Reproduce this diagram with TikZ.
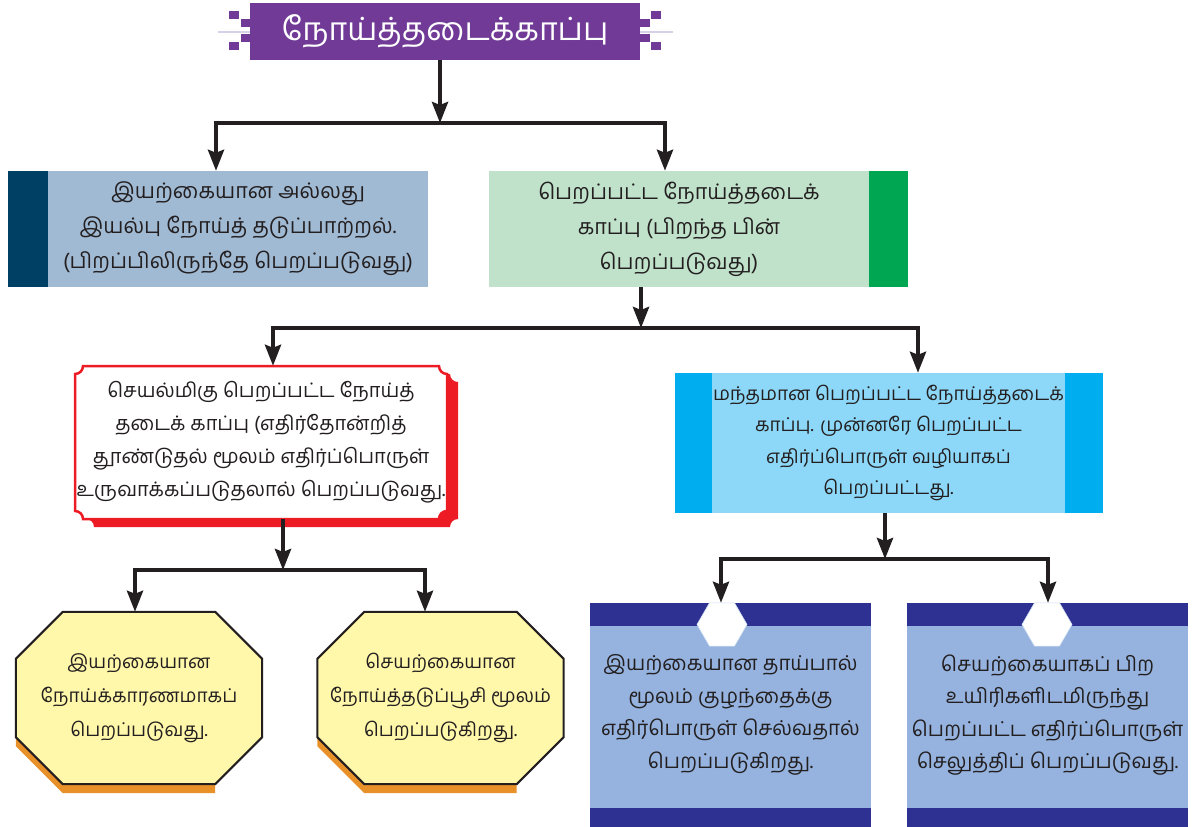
\documentclass[tikz,border=0pt]{standalone}
\usepackage{fontspec}
\newfontfamily\tamil[Script=Tamil]{Hind Madurai}
\usepackage{xcolor}
\usepackage{tikz}
\usetikzlibrary{arrows.meta,positioning,shapes.geometric,backgrounds}

\definecolor{ink}{RGB}{35,31,32}
\definecolor{headpurple}{RGB}{112,58,150}
\definecolor{lavline}{RGB}{214,208,232}
\definecolor{navyband}{RGB}{0,64,100}
\definecolor{steel}{RGB}{161,186,212}
\definecolor{mint}{RGB}{192,226,202}
\definecolor{grass}{RGB}{0,166,81}
\definecolor{alarm}{RGB}{237,28,36}
\definecolor{skylight}{RGB}{141,216,248}
\definecolor{skydark}{RGB}{0,174,239}
\definecolor{butter}{RGB}{255,247,170}
\definecolor{amber}{RGB}{232,145,40}
\definecolor{cornflower}{RGB}{149,179,222}
\definecolor{indigoband}{RGB}{46,49,146}
\definecolor{hexline}{RGB}{205,222,240}

\begin{document}
\begin{tikzpicture}[
  x=1pt,y=1pt,
  font=\tamil\fontsize{21}{33}\selectfont,
  headbox/.style={rectangle,fill=headpurple,text=white,minimum width=390pt,minimum height=57pt,inner sep=0pt,font=\tamil\fontsize{32}{36}\selectfont},
  tile/.style={rectangle,inner sep=0pt,align=center,text=ink},
  hexa/.style={regular polygon,regular polygon sides=6,minimum size=50pt,inner sep=0pt,fill=white,draw=hexline,line width=0.6pt},
  arr/.style={draw=ink,line width=4pt,-{Stealth[length=21pt,width=16pt,inset=3pt]}}
]
\useasboundingbox (0,0) rectangle (1192,-827);

% heading
\node[headbox] (head) at (445,-31.5) {நோய்த்தடைக்காப்பு};
\begin{scope}[on background layer]
  \draw[lavline,line width=1.5pt] (218,-32) -- (673,-32);
\end{scope}
\foreach \x/\y in {229/-11,241/-19,241/-34,229/-42,651/-11,640/-19,640/-34,651/-42}
  \fill[headpurple] (\x,\y) rectangle ++(10,-8);

% first level
\node[tile,fill=steel,minimum width=380pt,minimum height=116pt,font=\tamil\fontsize{21.5}{35}\selectfont] (natural) at (238,-229)
  {இயற்கையான அல்லது\\இயல்பு நோய்த் தடுப்பாற்றல்.\\(பிறப்பிலிருந்தே பெறப்படுவது)};
\fill[navyband] (natural.north west) rectangle ([xshift=-40pt]natural.south west);

\node[tile,fill=mint,minimum width=380pt,minimum height=116pt,font=\tamil\fontsize{21.5}{35}\selectfont] (acquired) at (679,-229)
  {பெறப்பட்ட நோய்த்தடைக்\\காப்பு (பிறந்த பின்\\பெறப்படுவது)};
\fill[grass] (acquired.north east) rectangle ([xshift=39pt]acquired.south east);

% second level
\node[tile,minimum width=372pt,minimum height=153pt,font=\tamil\fontsize{20}{33}\selectfont] (active) at (261,-442.5)
  {செயல்மிகு பெறப்பட்ட நோய்த்\\தடைக் காப்பு (எதிர்தோன்றித்\\தூண்டுதல் மூலம் எதிர்ப்பொருள்\\உருவாக்கப்படுதலால் பெறப்படுவது.};
\begin{scope}[on background layer]
  \fill[alarm,shift={(11,-8)}] (83,-366) -- (439,-366) arc[start angle=180,end angle=270,radius=8]
    -- (447,-511) arc[start angle=90,end angle=180,radius=8]
    -- (83,-519) arc[start angle=0,end angle=90,radius=8]
    -- (75,-374) arc[start angle=270,end angle=360,radius=8] -- cycle;
  \draw[alarm,fill=white,line width=2.5pt] (83,-366) -- (439,-366) arc[start angle=180,end angle=270,radius=8]
    -- (447,-511) arc[start angle=90,end angle=180,radius=8]
    -- (83,-519) arc[start angle=0,end angle=90,radius=8]
    -- (75,-374) arc[start angle=270,end angle=360,radius=8] -- cycle;
\end{scope}

\node[tile,fill=skylight,minimum width=353pt,minimum height=140pt,font=\tamil\fontsize{19}{31.5}\selectfont] (passive) at (888.5,-443)
  {மந்தமான பெறப்பட்ட நோய்த்தடைக்\\காப்பு. முன்னரே பெறப்பட்ட\\எதிர்ப்பொருள் வழியாகப்\\பெறப்பட்டது.};
\fill[skydark] (passive.north west) rectangle ([xshift=-37pt]passive.south west);
\fill[skydark] (passive.north east) rectangle ([xshift=38pt]passive.south east);

% third level, active side
\node[tile,minimum width=246pt,minimum height=172pt,font=\tamil\fontsize{19}{34}\selectfont] (disease) at (139,-698)
  {இயற்கையான\\நோய்க்காரணமாகப்\\பெறப்படுவது.};
\node[tile,minimum width=246pt,minimum height=172pt,font=\tamil\fontsize{19}{34}\selectfont] (vaccine) at (440.5,-698)
  {செயற்கையான\\நோய்த்தடுப்பூசி மூலம்\\பெறப்படுகிறது.};
\begin{scope}[on background layer]
  \foreach \o in {disease,vaccine}{
    \fill[amber] ([yshift=47pt]\o.south west) -- ([xshift=47pt]\o.south west) -- ([xshift=-47pt]\o.south east)
      -- ([xshift=-47pt,yshift=-9pt]\o.south east) -- ([xshift=47pt,yshift=-9pt]\o.south west)
      -- ([yshift=38pt]\o.south west) -- cycle;
    \draw[ink,fill=butter,line width=2pt,line join=miter] ([xshift=47pt]\o.north west) -- ([xshift=-47pt]\o.north east)
      -- ([yshift=-47pt]\o.north east) -- ([yshift=47pt]\o.south east) -- ([xshift=-47pt]\o.south east)
      -- ([xshift=47pt]\o.south west) -- ([yshift=47pt]\o.south west) -- ([yshift=-47pt]\o.north west) -- cycle;
  }
\end{scope}

% third level, passive side
\node[tile,fill=cornflower,minimum width=281pt,minimum height=224pt,font=\tamil\fontsize{20.5}{32.5}\selectfont] (milk) at (730.5,-715)
  {இயற்கையான தாய்பால்\\மூலம் குழந்தைக்கு\\எதிர்பொருள் செல்வதால்\\பெறப்படுகிறது.};
\node[tile,fill=cornflower,minimum width=281pt,minimum height=224pt,font=\tamil\fontsize{20.5}{32.5}\selectfont] (serum) at (1047.5,-715)
  {செயற்கையாகப் பிற\\உயிரிகளிடமிருந்து\\பெறப்பட்ட எதிர்ப்பொருள்\\செலுத்திப் பெறப்படுவது.};
\foreach \b in {milk,serum}{
  \fill[indigoband] (\b.north west) rectangle ([yshift=-23pt]\b.north east);
  \fill[indigoband] ([yshift=19pt]\b.south west) rectangle (\b.south east);
}
\node[hexa] (milkcap) at (722,-624.5) {};
\node[hexa] (serumcap) at (1047,-624.5) {};

% connectors
\coordinate (j1) at (440,-123);
\coordinate (j1l) at (216,-123);
\coordinate (j1r) at (665,-123);
\draw[arr] (head.south -| j1) -- (j1);
\draw[arr] (j1) -- (j1l) -- (j1l |- natural.north);
\draw[arr] (j1) -- (j1r) -- (j1r |- acquired.north);

\coordinate (j2) at (641,-328);
\coordinate (j2l) at (273,-328);
\coordinate (j2r) at (918,-328);
\draw[arr] (acquired.south -| j2) -- (j2);
\draw[arr] (j2) -- (j2l) -- (j2l |- active.north);
\draw[arr] (j2) -- (j2r) -- (j2r |- passive.north);

\coordinate (j3) at (283,-570);
\coordinate (j3l) at (135,-570);
\coordinate (j3r) at (425,-570);
\draw[arr] (active.south -| j3) -- (j3);
\draw[arr] (j3) -- (j3l) -- (j3l |- disease.north);
\draw[arr] (j3) -- (j3r) -- (j3r |- vaccine.north);

\coordinate (j4) at (885,-559);
\coordinate (j4l) at (721,-559);
\coordinate (j4r) at (1048,-559);
\draw[arr] (passive.south -| j4) -- (j4);
\draw[arr] (j4) -- (j4l) -- (j4l |- milk.north);
\draw[arr] (j4) -- (j4r) -- (j4r |- serum.north);
\end{tikzpicture}
\end{document}
